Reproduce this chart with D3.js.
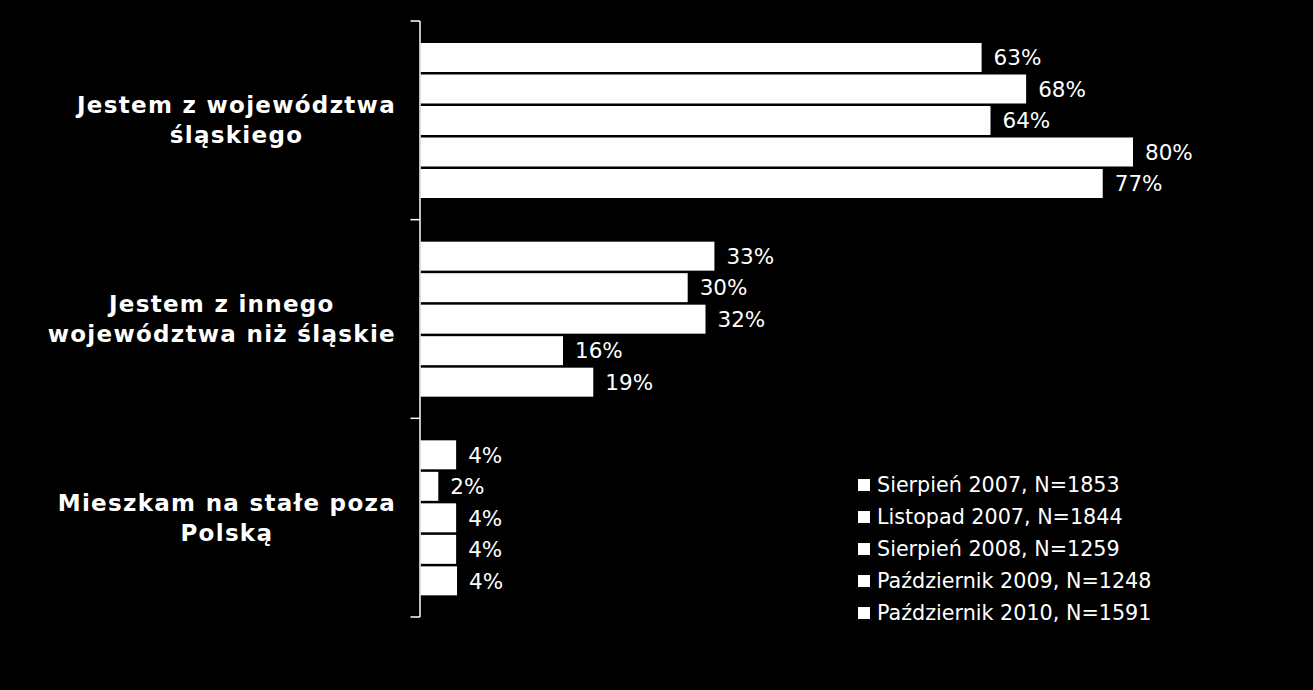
<!DOCTYPE html>
<html>
<head>
<meta charset="utf-8">
<script src="https://cdn.jsdelivr.net/npm/d3@7"></script>
<style>
  html, body { margin: 0; padding: 0; background: #000; }
  svg { display: block; }
</style>
</head>
<body>
<svg id="chart" width="1313" height="690"></svg>
<script>
const categories = [
  ["Jestem z województwa", "śląskiego"],
  ["Jestem z innego", "województwa niż śląskie"],
  ["Mieszkam na stałe poza", "Polską"]
];
const categoryKeys = ["wojewodztwo_slaskie", "inne_wojewodztwo", "poza_polska"];
const seriesNames = [
  "Sierpień 2007, N=1853",
  "Listopad 2007, N=1844",
  "Sierpień 2008, N=1259",
  "Październik 2009, N=1248",
  "Październik 2010, N=1591"
];
// values per series, in category order
const sierpien2007 = [63, 33, 4];
const listopad2007 = [68, 30, 2];
const sierpien2008 = [64, 32, 4];
const pazdziernik2009 = [80, 16, 4];
const pazdziernik2010 = [76.6, 19.4, 4.1];
const valueLabels = [
  ["63%", "33%", "4%"],
  ["68%", "30%", "2%"],
  ["64%", "32%", "4%"],
  ["80%", "16%", "4%"],
  ["77%", "19%", "4%"]
];
const seriesValues = [sierpien2007, listopad2007, sierpien2008, pazdziernik2009, pazdziernik2010];

const svg = d3.select("#chart");
svg.append("rect").attr("width", 1313).attr("height", 690).attr("fill", "#000");

const x = d3.scaleLinear().domain([0, 80]).range([420.5, 1133]);
const y0 = d3.scaleBand().domain(categoryKeys).range([21, 617]).padding(0);
const y1 = d3.scaleBand().domain(d3.range(seriesNames.length)).range([22, 177]).paddingInner(0.08).paddingOuter(0);

const fontFam = "'DejaVu Sans', Verdana, sans-serif";

// bars
const data = [];
categoryKeys.forEach((c, ci) => {
  seriesValues.forEach((vals, si) => {
    data.push({ c, ci, si, v: vals[ci], label: valueLabels[si][ci] });
  });
});

svg.append("g").selectAll("rect").data(data).join("rect")
  .attr("x", x(0))
  .attr("y", d => y0(d.c) + y1(d.si))
  .attr("width", d => x(d.v) - x(0))
  .attr("height", y1.bandwidth())
  .attr("fill", "#fff");

svg.append("g").selectAll("text").data(data).join("text")
  .attr("x", d => x(d.v) + 12)
  .attr("y", d => y0(d.c) + y1(d.si) + y1.bandwidth() / 2)
  .attr("dy", "0.36em")
  .attr("fill", "#fff")
  .attr("font-family", fontFam)
  .attr("font-size", "21.5px")
  .text(d => d.label);

// axis line and ticks at category boundaries
const axisG = svg.append("g").attr("stroke", "#fff").attr("stroke-width", 1.5);
axisG.append("line")
  .attr("x1", x(0) - 0.5).attr("x2", x(0) - 0.5)
  .attr("y1", y0.range()[0]).attr("y2", y0.range()[1]);
const boundaries = categoryKeys.map(c => y0(c)).concat([y0.range()[1]]);
axisG.selectAll(".tick").data(boundaries).join("line")
  .attr("x1", x(0) - 10).attr("x2", x(0) - 0.5)
  .attr("y1", d => d).attr("y2", d => d);

// category labels: right-aligned block, lines centered within the block
const labelRight = 396;
const catG = svg.append("g");
categoryKeys.forEach((c, ci) => {
  const cy = y0(c) + y0.bandwidth() / 2;
  const g = catG.append("g");
  const texts = categories[ci].map((line, li) =>
    g.append("text")
      .attr("y", cy - 7 + li * 30)
      .attr("text-anchor", "middle")
      .attr("fill", "#fff")
      .attr("font-family", fontFam)
      .attr("font-weight", "bold")
      .attr("font-size", "23px")
      .attr("letter-spacing", "1.3px")
      .text(line)
  );
  const w = d3.max(texts, t => t.node().getComputedTextLength());
  texts.forEach(t => t.attr("x", labelRight - w / 2));
});

// legend
const legend = svg.append("g").attr("transform", "translate(858,479)");
const rows = legend.selectAll("g").data(seriesNames).join("g")
  .attr("transform", (d, i) => `translate(0,${i * 32})`);
rows.append("rect").attr("width", 12).attr("height", 12).attr("fill", "#fff");
rows.append("text")
  .attr("x", 19).attr("y", 6).attr("dy", "0.36em")
  .attr("fill", "#fff")
  .attr("font-family", fontFam)
  .attr("font-size", "20.7px")
  .text(d => d);
</script>
</body>
</html>
